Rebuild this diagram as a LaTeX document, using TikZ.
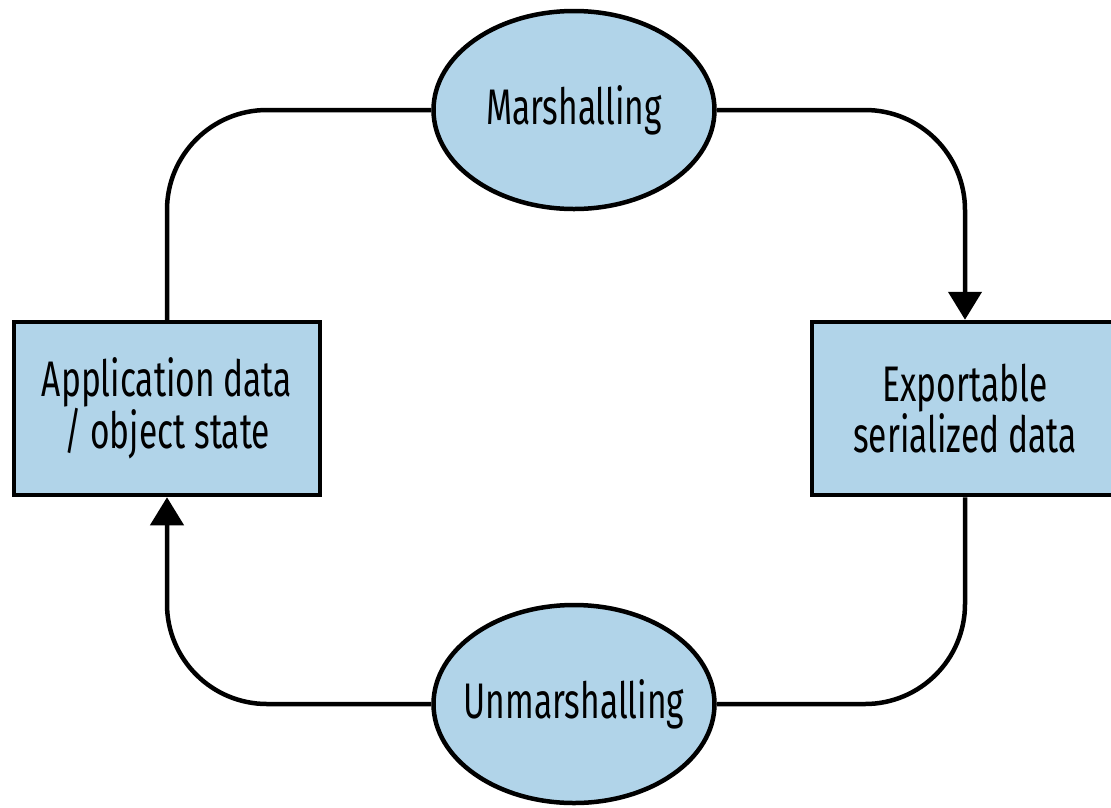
\documentclass[tikz,border=0pt]{standalone}
\usepackage{fontspec}
\setmainfont{Fira Sans}[FakeStretch=0.67]
\usetikzlibrary{shapes.geometric,arrows.meta}
\definecolor{fillblue}{RGB}{177,212,233}
\begin{document}
\begin{tikzpicture}[x=1pt,y=-1pt,
  every node/.style={font=\fontsize{50}{48}\selectfont, text=black},
  box/.style={draw=black, line width=4.5pt, fill=fillblue, minimum width=306pt, minimum height=173pt, align=center, inner sep=0pt},
  oval/.style={ellipse, draw=black, line width=4.5pt, fill=fillblue, minimum width=281pt, minimum height=198pt, inner sep=0pt},
  conn/.style={draw=black, line width=4.5pt, rounded corners=100pt},
  tip/.style={-{Triangle[width=33pt,length=28pt]}}]
\useasboundingbox (0,0) rectangle (1111,807);
\node[box] (app) at (167,408.5) {Application data\\/ object state};
\node[box] (exp) at (965,408.5) {Exportable\\serialized data};
\node[oval] (mar) at (574,110) {\makebox[0pt]{Marshalling}};
\node[oval] (unm) at (574,704) {\makebox[0pt]{Unmarshalling}};
\draw[conn] (app.north) |- (mar.west);
\draw[conn,tip] (mar.east) -| (exp.north);
\draw[conn] (exp.south) |- (unm.east);
\draw[conn,tip] (unm.west) -| (app.south);
\end{tikzpicture}
\end{document}
